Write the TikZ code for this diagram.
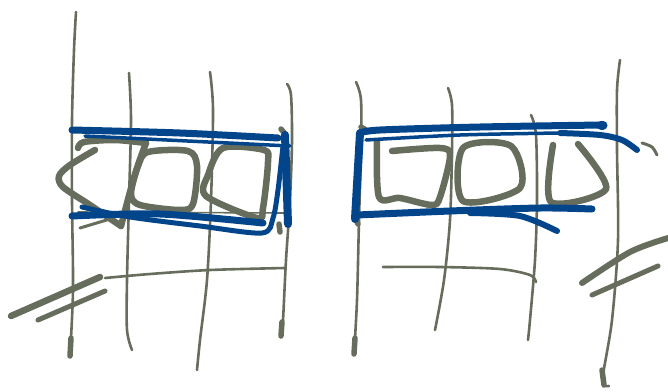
\documentclass[tikz,border=0pt]{standalone}
\usepackage{xcolor}
\definecolor{sketchgray}{HTML}{676D5C}
\definecolor{sketchblue}{HTML}{03458B}
\tikzset{
  gridline/.style={draw=sketchgray, line width=2.6pt, line cap=round, line join=round},
  blob/.style={draw=sketchgray, line width=5.5pt, line cap=round},
  window/.style={draw=sketchgray, line width=6.5pt, line cap=round, line join=round},
  frame/.style={draw=sketchblue, line width=7pt, line cap=round, line join=round},
  thinframe/.style={draw=sketchblue, line width=3.5pt, line cap=round, line join=round}
}

\begin{document}
\begin{tikzpicture}[x=1pt,y=-1pt]
        \useasboundingbox (0,0) rectangle (668,391);

        % left part: grid
        \draw[gridline] plot[smooth] coordinates {(76,12) (74,50) (72,120) (72,200) (73,290) (70,355)};
        \draw[gridline] plot[smooth] coordinates {(129,73) (131,120) (129,200) (127,280) (127,330) (132,350)};
        \draw[gridline] plot[smooth] coordinates {(210,72) (213,110) (211,200) (207,280) (200,340) (197,370)};
        \draw[gridline] plot[smooth] coordinates {(287,84) (291,95) (292,140) (290,200) (286,260) (283,320) (281,337)};
        \draw[gridline] plot[smooth] coordinates {(105,278) (150,274) (210,270) (285,268)};
        \draw[gridline, line width=1.6pt] (78,212) -- (288,213);
        \draw[blob] (71,338) -- (70,356);
        \draw[blob] (282,322) -- (281,336);
        \draw[blob] (281,129) -- (286,135);
        \draw[blob] (279,224) -- (280,232);

        % left part: slashes
        \draw[window, line width=6.5pt] (11,316) -- (100,277);
        \draw[window, line width=5pt] (38,320) -- (105,291);

        % left part: windows
        \draw[window] plot[smooth] coordinates {(78,148) (84,142) (115,140) (146,143)};
        \draw[window] plot[smooth] coordinates {(146,143) (138,165) (130,192) (121,226)};
        \draw[window] plot[smooth] coordinates {(121,226) (90,205) (63,187) (59,176) (70,165) (95,150)};
        \draw[window, line width=3pt] (80,228) -- (110,219);
        \draw[window] plot[smooth cycle] coordinates {(148,152) (188,151) (197,166) (193,204) (180,210) (140,205) (131,194) (138,166)};
        \draw[window] plot[smooth cycle] coordinates {(223,148) (264,150) (268,162) (263,208) (257,218) (206,196) (208,175)};

        % left part: frame
        \draw[frame] plot[smooth] coordinates {(72,130) (180,133) (278,138)};
        \draw[thinframe] (85,136) -- (290,146);
        \draw[frame, line width=8pt] (285,135) -- (288,224);
        \draw[thinframe, line width=5pt] plot[smooth] coordinates {(283,146) (278,190) (273,218) (262,233) (200,226) (130,217) (82,207)};
        \draw[frame] plot[smooth] coordinates {(72,216) (160,214) (263,223)};

        % right part: grid
        \draw[gridline] plot[smooth] coordinates {(356,82) (361,100) (361,150) (359,220) (357,300) (354,354)};
        \draw[gridline] plot[smooth] coordinates {(448,88) (452,105) (452,150) (450,220) (444,280) (435,330)};
        \draw[gridline] plot[smooth] coordinates {(531,115) (536,135) (537,200) (535,260) (530,320) (528,340)};
        \draw[gridline] plot[smooth] coordinates {(620,60) (617,90) (617,150) (618,240) (612,320) (603,375) (604,385) (609,386)};
        \draw[gridline] plot[smooth] coordinates {(383,267) (440,267) (500,269) (530,275) (536,282)};
        \draw[blob] (355,338) -- (354,354);
        \draw[blob] (602,370) -- (604,385);
        \draw[blob] (361,127) -- (366,130);
        \draw[blob] (356,219) -- (358,224);
        \draw[gridline, line width=3pt] plot[smooth] coordinates {(642,143) (652,147) (657,155)};

        % right part: slashes
        \draw[window, line width=6pt] plot[smooth] coordinates {(582,283) (630,252) (668,238)};
        \draw[window, line width=5pt] (592,295) -- (658,266);

        % right part: windows
        \draw[window] plot[smooth] coordinates {(392,151) (440,148) (450,156) (440,197) (432,205) (400,198) (379,197) (377,142)};
        \draw[window] plot[smooth cycle] coordinates {(463,148) (511,146) (520,188) (463,201)};
        \draw[window] plot[smooth] coordinates {(553,145) (551,202) (606,189) (578,144)};

        % right part: frame
        \draw[frame, line width=8pt] (360,133) -- (355,219);
        \draw[frame] plot[smooth] coordinates {(360,133) (380,130) (480,127) (601,125)};
        \draw[blob, draw=sketchblue, line width=9pt] (601,125) -- (603,125);
        \draw[thinframe] plot[smooth] coordinates {(366,140) (460,135) (560,133)};
        \draw[frame, line width=6pt] plot[smooth] coordinates {(560,133) (600,135) (622,140) (637,150)};
        \draw[frame] plot[smooth] coordinates {(357,215) (450,211) (540,208) (592,209)};
        \draw[frame, line width=6pt] plot[smooth] coordinates {(470,213) (520,216) (557,231)};
    \end{tikzpicture}
\end{document}
